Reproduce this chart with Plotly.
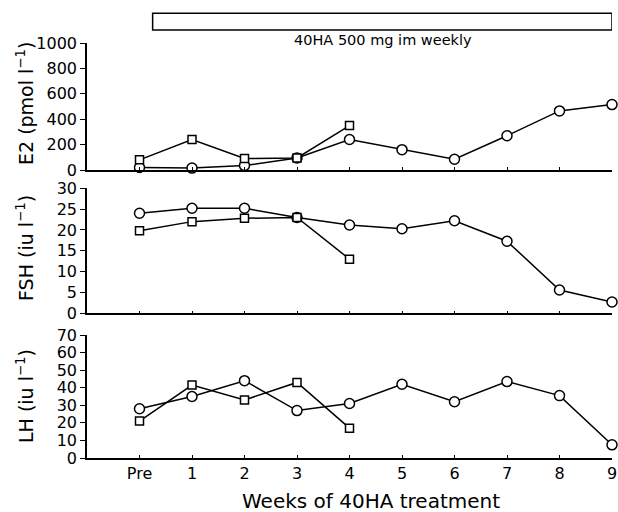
import plotly.graph_objects as go

weeks = ["Pre", "1", "2", "3", "4", "5", "6", "7", "8", "9"]

# E2 (pmol/l)
e2_circle = [20, 15, 35, 95, 240, 160, 85, 270, 465, 515]
e2_square = [80, 240, 90, 95, 350]
# FSH (iu/l)
fsh_circle = [24, 25.2, 25.2, 23, 21.2, 20.3, 22.2, 17.3, 5.6, 2.7]
fsh_square = [19.8, 22, 22.8, 23, 13]
# LH (iu/l)
lh_circle = [28, 35, 44, 27, 31, 42, 32, 43.5, 35.5, 7.5]
lh_square = [21, 41.5, 33, 43, 17]

e2_ticks = [0, 200, 400, 600, 800, 1000]
fsh_ticks = [0, 5, 10, 15, 20, 25, 30]
lh_ticks = [0, 10, 20, 30, 40, 50, 60, 70]

treatment_label = "40HA 500 mg im weekly"
treatment_start = 0.25
treatment_end = 9

FONT = "DejaVu Sans"
W, H = 618, 512
ML, MR, MT, MB = 87, 6, 43, 54
PH = H - MT - MB
PW = W - ML - MR


def py(px):
    """screen pixel row -> paper y"""
    return (H - MB - px) / PH


def pxx(px):
    """screen pixel column -> paper x"""
    return (px - ML) / PW


fig = go.Figure()

panels = [
    ("y", e2_circle, e2_square),
    ("y2", fsh_circle, fsh_square),
    ("y3", lh_circle, lh_square),
]
for yref, circ, sq in panels:
    xa = "x" if yref == "y" else "x" + yref[1:]
    fig.add_trace(go.Scatter(
        x=weeks, y=circ, xaxis=xa, yaxis=yref, mode="lines+markers",
        line=dict(color="black", width=1.5),
        marker=dict(symbol="circle", size=10, color="white",
                    line=dict(color="black", width=1.5)),
        cliponaxis=False, showlegend=False))
    fig.add_trace(go.Scatter(
        x=weeks[:len(sq)], y=sq, xaxis=xa, yaxis=yref, mode="lines+markers",
        line=dict(color="black", width=1.5),
        marker=dict(symbol="square", size=8, color="white",
                    line=dict(color="black", width=1.5)),
        cliponaxis=False, showlegend=False))

xcommon = dict(type="category", categoryorder="array", categoryarray=weeks,
               range=[-1, 9], showgrid=False, zeroline=False, automargin=False,
               showline=True, linecolor="black", linewidth=1.5,
               ticks="inside", ticklen=3, tickwidth=1, tickcolor="black",
               tickfont=dict(family=FONT, size=16, color="black"))
ycommon = dict(showgrid=False, zeroline=False, showline=True, automargin=False,
               linecolor="black", linewidth=1.5, ticks="outside", ticklen=5,
               tickwidth=1.2, tickcolor="black",
               tickfont=dict(family=FONT, size=16, color="black"))

fig.update_layout(
    width=W, height=H, autosize=False,
    margin=dict(l=ML, r=MR, t=MT, b=MB, autoexpand=False),
    plot_bgcolor="white", paper_bgcolor="white",
    xaxis=dict(xcommon, anchor="y", showticklabels=False, matches="x3"),
    xaxis2=dict(xcommon, anchor="y2", showticklabels=False, matches="x3"),
    xaxis3=dict(xcommon, anchor="y3", showticklabels=True),
    yaxis=dict(ycommon, domain=[py(170), 1.0], range=[0, 1000],
               tickvals=e2_ticks, anchor="x"),
    yaxis2=dict(ycommon, domain=[py(313.3), py(188.3)], range=[0, 30],
                tickvals=fsh_ticks, anchor="x2"),
    yaxis3=dict(ycommon, domain=[0, py(335)], range=[0, 70],
                tickvals=lh_ticks, anchor="x3"),
)

# treatment bar
fig.add_shape(type="rect", xref="x", yref="paper",
              x0=treatment_start, x1=treatment_end, y0=py(30), y1=py(13.3),
              line=dict(color="black", width=1.5), fillcolor="white")

annots = [
    dict(text=treatment_label, x=pxx(383), y=py(40), size=14.5, angle=0),
    dict(text="E2 (pmol l<sup>−1</sup>)", x=pxx(25), y=py(104), size=19, angle=-90),
    dict(text="FSH (iu l<sup>−1</sup>)", x=pxx(25), y=py(248), size=19, angle=-90),
    dict(text="LH (iu l<sup>−1</sup>)", x=pxx(25), y=py(396), size=19, angle=-90),
    dict(text="Weeks of 40HA treatment", x=pxx(371), y=py(500.5), size=20, angle=0),
]
for a in annots:
    fig.add_annotation(text=a["text"], x=a["x"], y=a["y"], xref="paper",
                       yref="paper", xanchor="center", yanchor="middle",
                       textangle=a["angle"], showarrow=False,
                       font=dict(family=FONT, size=a["size"], color="black"))

fig.write_html(
    "out.html",
    config={"displayModeBar": False},
    post_script="document.body.style.margin='0';document.body.style.overflow='hidden';",
)
